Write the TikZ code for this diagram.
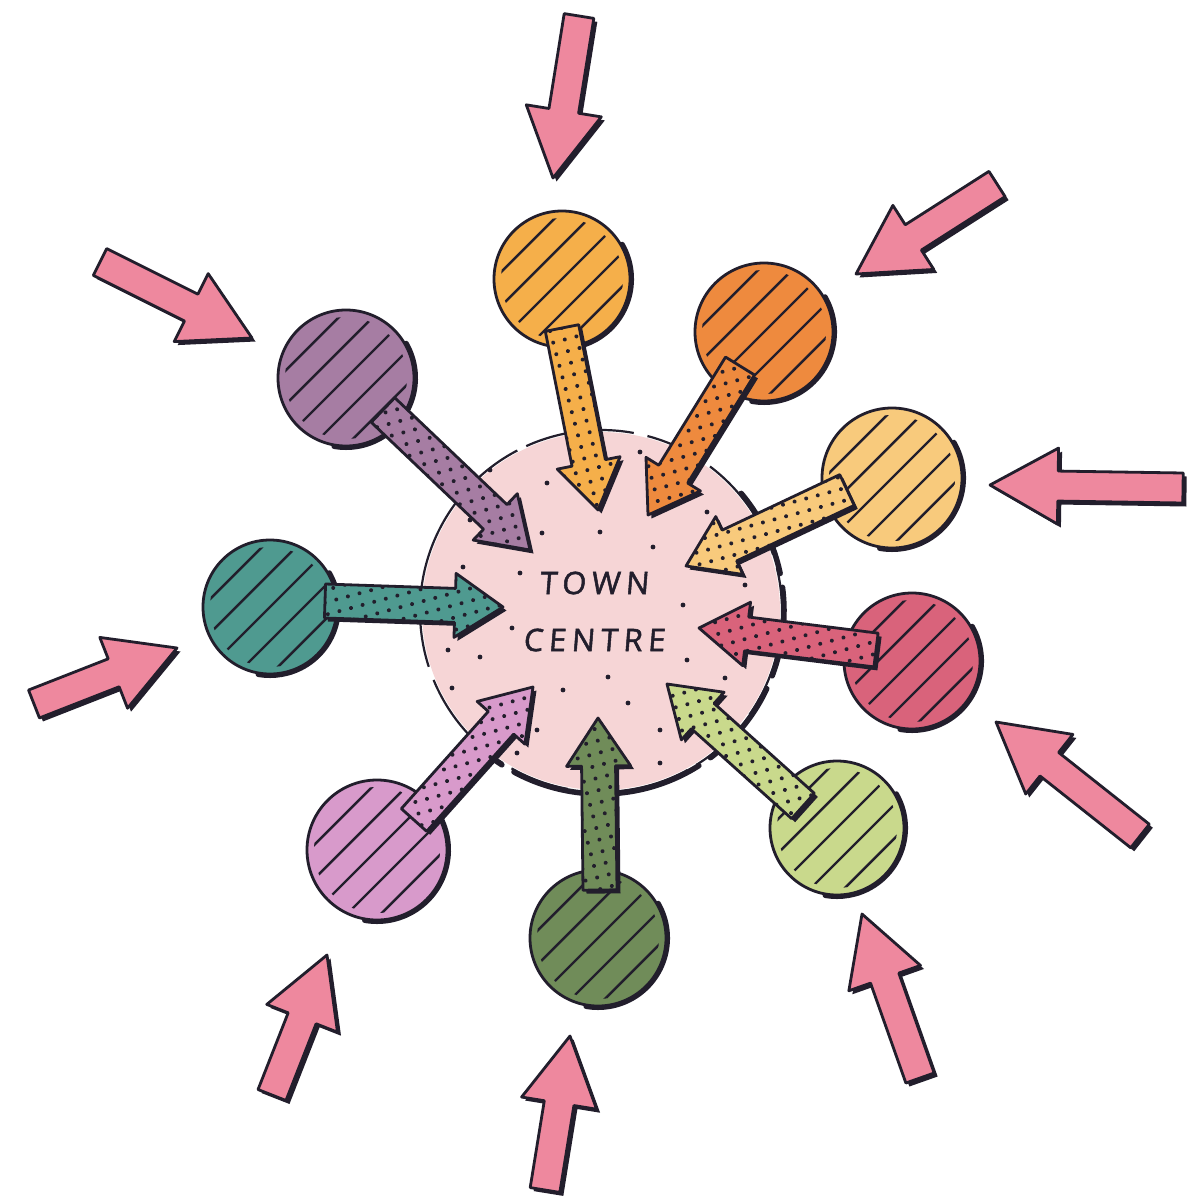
\documentclass[tikz,border=0pt]{standalone}
\usepackage{fontspec}
\newfontfamily\handfont[LetterSpace=18,FakeBold=1.6,FakeSlant=0.08]{Open Sans}
\usetikzlibrary{calc,patterns.meta}
\definecolor{ink}{HTML}{221E2C}
\definecolor{outpink}{HTML}{EE889E}
\definecolor{centrepink}{HTML}{F6D5D6}
\definecolor{cA}{HTML}{F5AF4A}
\definecolor{cB}{HTML}{EE8A3E}
\definecolor{cC}{HTML}{F8CA7C}
\definecolor{cD}{HTML}{D9637B}
\definecolor{cE}{HTML}{C9D98C}
\definecolor{cF}{HTML}{708C59}
\definecolor{cG}{HTML}{D89ACB}
\definecolor{cH}{HTML}{4F9A90}
\definecolor{cI}{HTML}{A67DA3}
\tikzset{
  inkline/.style={draw=ink, line width=2.8pt, line join=round, line cap=round},
  hatchline/.style={draw=ink, line width=2.4pt, line cap=round},
  shadowarc/.style={draw=ink, line width=5pt, line cap=round},
  dotty/.style={pattern={Dots[radius=2pt,distance=12pt,angle=15]}, pattern color=ink},
}
% satellite: name, x, y, radius, colour
\newcommand\satellite[5]{%
  \coordinate (#1) at (#2,#3);
  \draw[shadowarc] ($(#1)+(-30:#4+1.5)$) arc (-30:100:#4+1.5);
  \fill[#5] (#1) circle (#4);
  \begin{scope}
    \clip (#1) circle (#4-7);
    \foreach \d in {-72,-48,...,72}
      \draw[hatchline] ($(#1)+({\d*0.7071+95},{\d*0.7071-95})$) -- ($(#1)+({\d*0.7071-95},{\d*0.7071+95})$);
  \end{scope}
  \draw[inkline] (#1) circle (#4);
}
% block arrow: name, tail, tip, shaft half width, head half width, head length, colour, dotted(1/0)
\newcommand\blockarrow[8]{%
  \coordinate (#1-n) at ($(#3)!#6!(#2)$);
  \coordinate (#1-t1) at ($(#2)!#4!90:(#3)$);
  \coordinate (#1-t2) at ($(#2)!#4!-90:(#3)$);
  \coordinate (#1-s1) at ($(#1-n)!#4!90:(#3)$);
  \coordinate (#1-s2) at ($(#1-n)!#4!-90:(#3)$);
  \coordinate (#1-h1) at ($(#1-n)!#5!90:(#3)$);
  \coordinate (#1-h2) at ($(#1-n)!#5!-90:(#3)$);
  \fill[ink, transform canvas={shift={(3.5pt,-3.5pt)}}] (#1-t1) -- (#1-s1) -- (#1-h1) -- (#3) -- (#1-h2) -- (#1-s2) -- (#1-t2) -- cycle;
  \fill[#7] (#1-t1) -- (#1-s1) -- (#1-h1) -- (#3) -- (#1-h2) -- (#1-s2) -- (#1-t2) -- cycle;
  \ifnum#8=1
    \path[dotty] (#1-t1) -- (#1-s1) -- (#1-h1) -- (#3) -- (#1-h2) -- (#1-s2) -- (#1-t2) -- cycle;
  \fi
  \draw[inkline] (#1-t1) -- (#1-s1) -- (#1-h1) -- (#3) -- (#1-h2) -- (#1-s2) -- (#1-t2) -- cycle;
}
\begin{document}
\begin{tikzpicture}[x=1pt,y=-1pt]
\useasboundingbox (0,0) rectangle (1201,1199);
\fill[white] (0,0) rectangle (1201,1199);

% town centre
\coordinate (tc) at (601,611);
\fill[centrepink] (tc) circle (179);
\draw[ink, line width=2.2pt, dash pattern=on 110pt off 14pt on 60pt off 10pt] (tc) circle (181);
\draw[ink, line width=5.5pt, line cap=round, dash pattern=on 90pt off 14pt] ($(tc)+(-40:183)$) arc (-40:125:183);
\foreach \p in {(640,452),(547,483),(600,532),(653,547),(542,533),(520,573),(463,567),(683,605),(745,585),(448,650),(480,657),(512,628),(687,660),(608,677),(563,690),(628,703),(725,678),(452,688),(537,730),(660,730),(660,763),(517,753),(707,512),(750,615),(470,520),(760,700),(490,470),(585,455)}
  \fill[ink] \p circle (2.4);
\node[font=\handfont\fontsize{31}{38}\selectfont, text=ink] (town) at (594,583) {TOWN};
\node[font=\handfont\fontsize{31}{38}\selectfont, text=ink] (centre) at (594,640) {CENTRE};

% satellites
\satellite{s1}{562}{279}{68}{cA}
\satellite{s2}{764}{332}{69}{cB}
\satellite{s3}{892}{478}{70}{cC}
\satellite{s4}{912}{661}{68}{cD}
\satellite{s5}{837}{828}{67}{cE}
\satellite{s6}{598}{938}{68}{cF}
\satellite{s7}{377}{850}{70}{cG}
\satellite{s8}{270}{607}{67}{cH}
\satellite{s9}{346}{378}{68}{cI}

% inner arrows
\coordinate (a1) at (562,328); \coordinate (b1) at (598,510);
\coordinate (a2) at (740,366); \coordinate (b2) at (648,515);
\coordinate (a3) at (847,490); \coordinate (b3) at (686,566);
\coordinate (a4) at (876,650); \coordinate (b4) at (699,628);
\coordinate (a5) at (803,806); \coordinate (b5) at (667,684);
\coordinate (a6) at (600,890); \coordinate (b6) at (598,718);
\coordinate (a7) at (414,820); \coordinate (b7) at (533,687);
\coordinate (a8) at (325,601); \coordinate (b8) at (503,607);
\coordinate (a9) at (383,410); \coordinate (b9) at (530,550);
\blockarrow{i1}{a1}{b1}{17pt}{32pt}{48pt}{cA}{1}
\blockarrow{i2}{a2}{b2}{17pt}{32pt}{48pt}{cB}{1}
\blockarrow{i3}{a3}{b3}{17pt}{32pt}{48pt}{cC}{1}
\blockarrow{i4}{a4}{b4}{17pt}{32pt}{48pt}{cD}{1}
\blockarrow{i5}{a5}{b5}{17pt}{32pt}{48pt}{cE}{1}
\blockarrow{i6}{a6}{b6}{17pt}{32pt}{48pt}{cF}{1}
\blockarrow{i7}{a7}{b7}{17pt}{32pt}{48pt}{cG}{1}
\blockarrow{i8}{a8}{b8}{17pt}{32pt}{48pt}{cH}{1}
\blockarrow{i9}{a9}{b9}{17pt}{32pt}{48pt}{cI}{1}

% outer arrows
\coordinate (p1) at (579,16);   \coordinate (q1) at (553,178);
\coordinate (p2) at (997,184);  \coordinate (q2) at (856,274);
\coordinate (p3) at (1183,488); \coordinate (q3) at (990,485);
\coordinate (p4) at (1140,836); \coordinate (q4) at (996,722);
\coordinate (p5) at (920,1078); \coordinate (q5) at (862,914);
\coordinate (p6) at (545,1190); \coordinate (q6) at (570,1036);
\coordinate (p7) at (272,1095); \coordinate (q7) at (327,955);
\coordinate (p8) at (34,704);   \coordinate (q8) at (177,648);
\coordinate (p9) at (100,262);  \coordinate (q9) at (252,338);
\foreach \k in {1,...,9}
  \blockarrow{o\k}{p\k}{q\k}{15pt}{38pt}{68pt}{outpink}{0};
\end{tikzpicture}
\end{document}
